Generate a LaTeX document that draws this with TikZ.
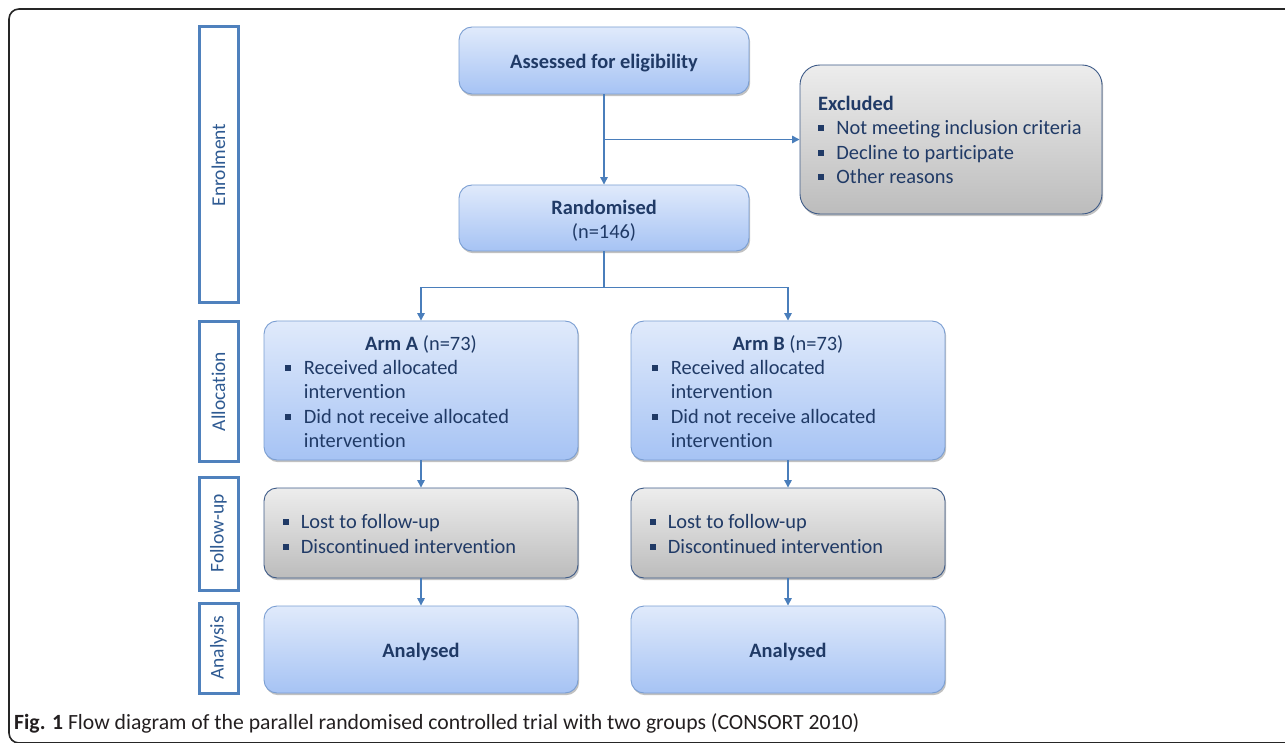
\documentclass[tikz,border=0pt]{standalone}
\usepackage{fontspec}
\setmainfont{Carlito}[Ligatures=NoCommon]
\usetikzlibrary{shadows,arrows.meta,calc}
\definecolor{txt}{HTML}{203A66}
\definecolor{sidetxt}{HTML}{2E5A92}
\definecolor{sideln}{HTML}{4F81BD}
\definecolor{arrc}{HTML}{4A7EBB}
\definecolor{blueTop}{HTML}{E0EAFB}
\definecolor{blueBot}{HTML}{A6C3F4}
\definecolor{blueLn}{HTML}{7A9ED2}
\definecolor{grayTop}{HTML}{EDEDED}
\definecolor{grayBot}{HTML}{BCBCBC}
\definecolor{grayLn}{HTML}{3D5A87}
\definecolor{captc}{HTML}{231F20}
\newcommand{\bul}{\textcolor{txt}{\rule[0.17em]{0.28em}{0.28em}}}
\newcommand{\lowerby}[2]{\raisebox{-#1}[\height][\depth]{#2}}
\begin{document}
\begin{tikzpicture}[x=1pt,y=-1pt,
  boxbase/.style={rounded corners=13pt, inner sep=0pt, line width=0.9pt,
    drop shadow={shadow xshift=1.2pt, shadow yshift=-2.2pt, opacity=0.35, fill=black!70},
    text=txt, font=\fontsize{20.4}{24.5}\selectfont, align=center},
  bluebox/.style={boxbase, draw=blueLn, top color=blueTop, bottom color=blueBot},
  graybox/.style={boxbase, draw=grayLn, top color=grayTop, bottom color=grayBot},
  sidebox/.style={draw=sideln, line width=3pt, minimum width=39pt, inner sep=0pt,
    text=sidetxt, font=\fontsize{19}{22}\selectfont},
  sidelab/.style={rotate=90, text=sidetxt, font=\fontsize{19.5}{22}\selectfont},
  listtxt/.style={anchor=west, inner sep=0pt, text=txt, font=\fontsize{20.4}{24.5}\selectfont, align=left},
  arr/.style={draw=arrc, line width=1.3pt, -{Triangle[length=7.5pt,width=7.5pt]}},
  ln/.style={draw=arrc, line width=1.3pt}
]
\useasboundingbox (0,0) rectangle (1285,743);
% frame
\begin{scope}
\clip (0,0) rectangle (1285,743);
\draw[line width=1.6pt, black!85, rounded corners=10pt] (1300,9) -- (9,9) -- (9,743) -- (1300,743);
\end{scope}

% side boxes
\node[sidebox, minimum height=276pt] (enrol) at (218.5,165) {};
\node[sidelab] (enrolT) at (enrol.center) {Enrolment};
\node[sidebox, minimum height=139pt] (alloc) at (218.5,391.5) {};
\node[sidelab] (allocT) at (alloc.center) {Allocation};
\node[sidebox, minimum height=113pt] (follow) at (218.5,533.5) {};
\node[sidelab] (followT) at (follow.center) {Follow-up};
\node[sidebox, minimum height=90pt] (analysis) at (218.5,648) {};
\node[sidelab] (analysisT) at (analysis.center) {Analysis};

% main boxes
\node[bluebox, minimum width=290pt, minimum height=67pt] (assess) at (604,60.5) {\lowerby{2.5pt}{\textbf{Assessed for eligibility}}};
\node[graybox, rounded corners=20pt, minimum width=302pt, minimum height=149pt] (excl) at (951,139.5) {};
\node[listtxt] (exclT) at (818,142) {\begin{tabular}{@{}l@{\hspace{12.5pt}}l@{}}
\multicolumn{2}{@{}l}{\textbf{Excluded}}\\
\bul & Not meeting inclusion criteria\\
\bul & Decline to participate\\
\bul & Other reasons
\end{tabular}};
\node[bluebox, minimum width=290pt, minimum height=66pt] (rand) at (604,218) {\lowerby{3.5pt}{\begin{tabular}{@{}c@{}}\textbf{Randomised}\\(n=146)\end{tabular}}};

\node[bluebox, minimum width=314pt, minimum height=139pt] (armA) at (421,390.5) {};
\node[listtxt, anchor=center] (armAT) at (421,344) {\textbf{Arm A} (n=73)};
\node[listtxt] (armAL) at (285,406) {\begin{tabular}{@{}l@{\hspace{13pt}}l@{}}
\bul & Received allocated\\
 & intervention\\
\bul & Did not receive allocated\\
 & intervention
\end{tabular}};
\node[bluebox, minimum width=314pt, minimum height=139pt] (armB) at (788,390.5) {};
\node[listtxt, anchor=center] (armBT) at (788,344) {\textbf{Arm B} (n=73)};
\node[listtxt] (armBL) at (652,406) {\begin{tabular}{@{}l@{\hspace{13pt}}l@{}}
\bul & Received allocated\\
 & intervention\\
\bul & Did not receive allocated\\
 & intervention
\end{tabular}};

\node[graybox, minimum width=314pt, minimum height=90pt] (fuA) at (421,533) {};
\node[listtxt] (fuAL) at (283,536) {\begin{tabular}{@{}l@{\hspace{12pt}}l@{}}
\bul & Lost to follow-up\\
\bul & Discontinued intervention
\end{tabular}};
\node[graybox, minimum width=314pt, minimum height=90pt] (fuB) at (788,533) {};
\node[listtxt] (fuBL) at (650,536) {\begin{tabular}{@{}l@{\hspace{12pt}}l@{}}
\bul & Lost to follow-up\\
\bul & Discontinued intervention
\end{tabular}};

\node[bluebox, minimum width=314pt, minimum height=87pt] (anA) at (421,649.5) {\lowerby{2pt}{\textbf{Analysed}}};
\node[bluebox, minimum width=314pt, minimum height=87pt] (anB) at (788,649.5) {\lowerby{2pt}{\textbf{Analysed}}};

% connectors
\draw[arr] (assess.south) -- (rand.north);
\coordinate (branch) at (assess.south |- excl.west);
\draw[arr] (branch) -- (excl.west);
\coordinate (split) at ($(rand.south)+(0,36)$);
\draw[ln] (rand.south) -- (split);
\draw[arr] (split) -| (armA.north);
\draw[arr] (split) -| (armB.north);
\draw[arr] (armA.south) -- (fuA.north);
\draw[arr] (armB.south) -- (fuB.north);
\draw[arr] (fuA.south) -- (anA.north);
\draw[arr] (fuB.south) -- (anB.north);

% caption
\node[anchor=west, inner sep=0pt, text=captc, font=\fontsize{21.7}{24}\selectfont] (cap) at (14,723) {\textbf{Fig. 1} Flow diagram of the parallel randomised controlled trial with two groups (CONSORT 2010)};
\end{tikzpicture}
\end{document}
